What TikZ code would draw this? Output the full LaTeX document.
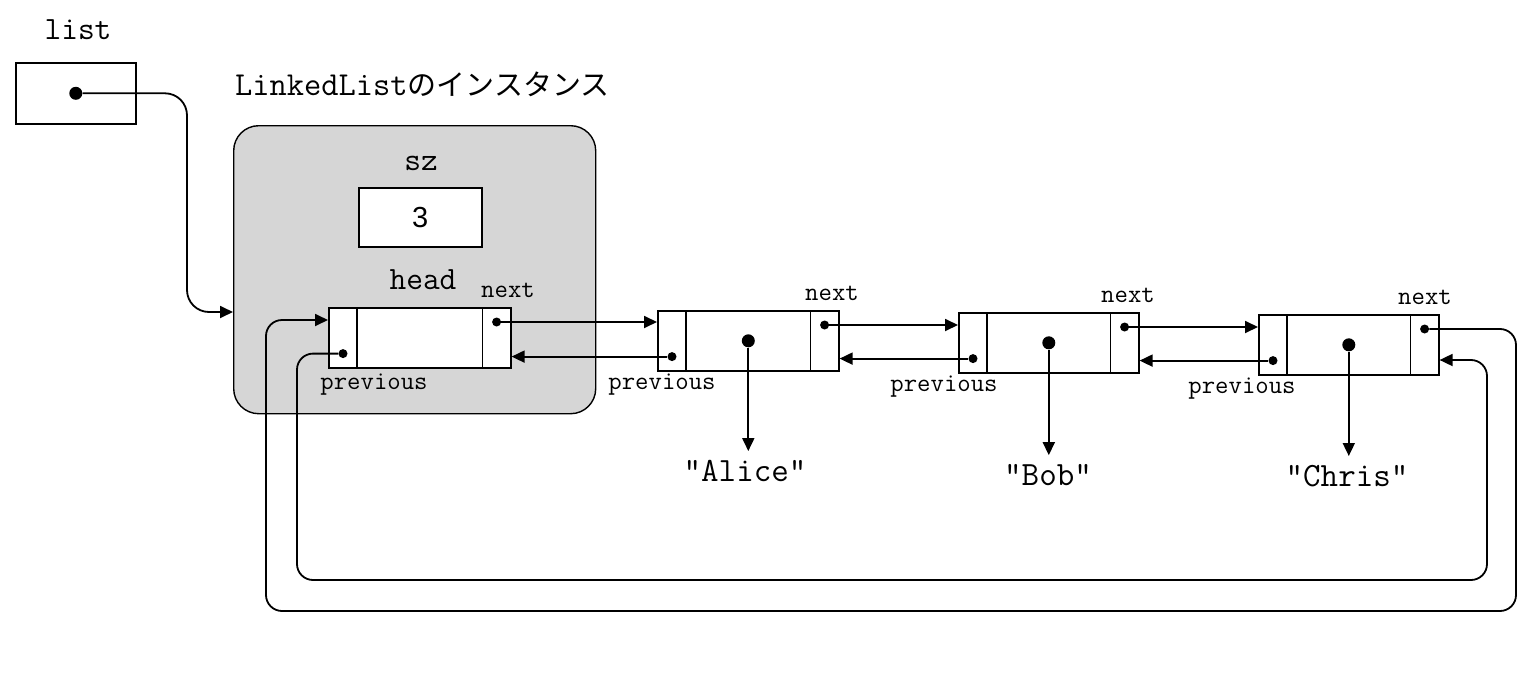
\documentclass[tikz,border=0pt]{standalone}
\usepackage{fontspec}
\newfontfamily\jpfont{Noto Sans CJK JP}
\newfontfamily\digitfont{Liberation Sans}
\usetikzlibrary{arrows.meta}
\begin{document}
\begin{tikzpicture}[x=1pt,y=-1pt,
  cellbox/.style={draw, line width=1.6pt, fill=white, inner sep=0pt, minimum width=181pt, minimum height=60pt, anchor=north west},
  sdot/.style={circle, fill=black, inner sep=0pt, minimum size=9pt},
  bdot/.style={circle, fill=black, inner sep=0pt, minimum size=13pt},
  ptr/.style={line width=1.8pt, -{Triangle[length=13pt,width=12pt]}},
  divline/.style={line width=1.5pt},
  smalllbl/.style={font=\ttfamily\fontsize{26}{30}\selectfont, inner sep=0pt},
  biglbl/.style={font=\ttfamily\fontsize{32.5}{38}\selectfont, inner sep=0pt},
  strlbl/.style={font=\ttfamily\fontsize{34}{40}\selectfont, inner sep=0pt}
]
\useasboundingbox (0,0) rectangle (1527,696);
\fill[white] (0,0) rectangle (1527,696);

% list variable
\node[biglbl] (listlbl) at (78,30) {list};
\node[draw, line width=1.6pt, minimum width=120pt, minimum height=61pt, inner sep=0pt, anchor=north west] (lbox) at (15,62) {};
\node[bdot] (ld) at (lbox.center) {};

% instance title
\node[anchor=base west, inner sep=0pt] (title) at (235,95) {\ttfamily\fontsize{33.5}{40}\selectfont LinkedList{\jpfont\fontsize{29}{36}\selectfont のインスタンス}};

% instance box
\node[draw, line width=1.4pt, fill=black!16, rounded corners=25pt, minimum width=362pt, minimum height=288pt, inner sep=0pt, anchor=north west] (inst) at (233,125) {};

\node[biglbl] (szlbl) at (421,163) {sz};
\node[draw, line width=1.6pt, fill=white, minimum width=123pt, minimum height=59pt, inner sep=0pt, anchor=north west] (szbox) at (358,187) {};
\node[font=\digitfont\fontsize{29}{32}\selectfont, inner sep=0pt] (szval) at (szbox.center) {3};
\node[biglbl] (headlbl) at (423,280) {head};

% cells
\node[cellbox, minimum width=182pt] (h) at (328,307) {};
\node[cellbox] (a) at (657,310) {};
\node[cellbox, minimum width=180pt] (b) at (958,312) {};
\node[cellbox, minimum width=180pt] (c) at (1258,314) {};

\foreach \n in {h,a,b,c} {
  \draw[divline] ([xshift=29pt]\n.north west) -- ([xshift=29pt]\n.south west);
  \draw[divline] ([xshift=-29pt]\n.north east) -- ([xshift=-29pt]\n.south east);
  \node[sdot] (nx\n) at ([xshift=-15pt,yshift=-15pt]\n.north east) {};
  \node[sdot] (px\n) at ([xshift=15pt,yshift=15pt]\n.south west) {};
}
\foreach \n in {a,b,c} {
  \node[bdot] (v\n) at (\n.center) {};
}

% labels
\node[smalllbl] (nlh) at (508,290) {next};
\node[smalllbl] (nla) at (832,293) {next};
\node[smalllbl] (nlb) at (1128,295) {next};
\node[smalllbl] (nlc) at (1425,297) {next};
\node[smalllbl] (plh) at (374,385) {previous};
\node[smalllbl] (pla) at (662,385) {previous};
\node[smalllbl] (plb) at (944,387) {previous};
\node[smalllbl] (plc) at (1242,389) {previous};

% strings
\node[strlbl] (sa) at (745,471) {"Alice"};
\node[strlbl] (sb) at (1048,475) {"Bob"};
\node[strlbl] (sc) at (1347,476) {"Chris"};

% value pointers
\draw[ptr, shorten >=9pt] (va) -- (va |- sa.north);
\draw[ptr, shorten >=9pt] (vb) -- (vb |- sb.north);
\draw[ptr, shorten >=9pt] (vc) -- (vc |- sc.north);

% next / previous pointers
\draw[ptr] (nxh) -- (nxh -| a.west);
\draw[ptr] (nxa) -- (nxa -| b.west);
\draw[ptr] (nxb) -- (nxb -| c.west);
\draw[ptr] (pxa) -- (pxa -| h.east);
\draw[ptr] (pxb) -- (pxb -| a.east);
\draw[ptr] (pxc) -- (pxc -| b.east);

% list -> instance
\coordinate (lc) at (187,312);
\draw[ptr, rounded corners=22pt] (ld) -| (lc) -- (lc -| inst.west);

% outer loop: last next -> head
\coordinate (o1) at (1516,611);
\coordinate (o2) at (266,320);
\draw[ptr, rounded corners=16pt] (nxc) -| (o1) -| (o2) -- (o2 -| h.west);

% inner loop: head previous -> last
\coordinate (i1) at (297,580);
\coordinate (i2) at (1487,360);
\draw[ptr, rounded corners=16pt] (pxh) -| (i1) -| (i2) -- (i2 -| c.east);
\end{tikzpicture}
\end{document}
